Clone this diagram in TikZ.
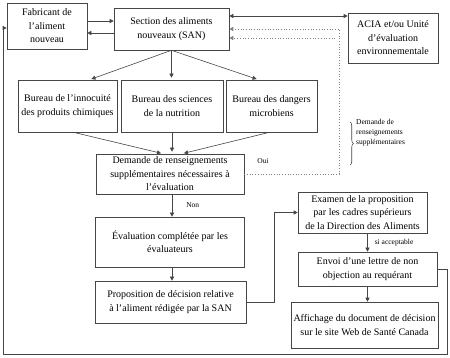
\documentclass[tikz,border=0pt]{standalone}
\usepackage{fontspec}
\setmainfont{Liberation Serif}
\usepackage{xcolor}
\usetikzlibrary{positioning,arrows.meta,calc,decorations.pathreplacing}
\definecolor{boxline}{RGB}{70,70,70}

\begin{document}
\begin{tikzpicture}[
  x=1pt, y=-1pt,
  >={Triangle[length=4pt,width=4pt]},
  unitbox/.style={draw=boxline, line width=0.6pt, fill=white, align=center, inner xsep=2pt, inner ysep=0pt, font=\fontsize{10}{13.5}\selectfont},
  flow/.style={->, line width=0.6pt, draw=boxline},
  infoflow/.style={->, line width=0.7pt, dotted, draw=gray},
  smalltext/.style={font=\fontsize{7.5}{10}\selectfont, inner sep=0pt}
]
\fill[white] (0,0) rectangle (450,358);
\useasboundingbox (0,0) rectangle (450,358);

\node[unitbox, minimum width=80pt, minimum height=46pt] (fab) at (47,26) {Fabricant de\\l’aliment\\nouveau};
\node[unitbox, minimum width=115pt, minimum height=42pt] (san) at (171.5,29) {Section des aliments\\nouveaux (SAN)};
\node[unitbox, minimum width=90pt, minimum height=50pt] (acia) at (393,38) {ACIA et/ou Unité\\d’évaluation\\environnementale};
\node[unitbox, minimum width=99pt, minimum height=52pt] (chim) at (67.5,106) {Bureau de l’innocuité\\des produits chimiques};
\node[unitbox, minimum width=102pt, minimum height=52pt] (nutr) at (172,106) {Bureau des sciences\\de la nutrition};
\node[unitbox, minimum width=91pt, minimum height=52pt] (micro) at (271.5,106) {Bureau des dangers\\microbiens};
\node[unitbox, minimum width=148pt, minimum height=40pt] (demande) at (170,174) {Demande de renseignements\\supplémentaires nécessaires à\\l’évaluation};
\node[unitbox, minimum width=149pt, minimum height=50pt] (eval) at (170,242) {Évaluation complétée par les\\évaluateurs};
\node[unitbox, minimum width=151pt, minimum height=42pt] (prop) at (170.5,302) {Proposition de décision relative\\à l’aliment rédigée par la SAN};
\node[unitbox, minimum width=129pt, minimum height=41pt] (exam) at (362.5,212.5) {Examen de la proposition\\par les cadres supérieurs\\de la Direction des Aliments};
\node[unitbox, minimum width=139pt, minimum height=34pt] (envoi) at (367.5,269) {Envoi d’une lettre de non\\objection au requérant};
\node[unitbox, minimum width=147pt, minimum height=46pt] (affich) at (364.5,325) {Affichage du document de décision\\sur le site Web de Santé Canada};

\node[smalltext] (oui) at (263,161) {Oui};
\node[smalltext, anchor=west, align=left] (bracenote) at (356,133) {Demande de\\renseignements\\supplémentaires};
\draw[draw=boxline, line width=0.6pt, decorate, decoration={brace, amplitude=3.5pt}] (350,122) -- (350,165);

\coordinate (dtop) at (339,29);
\coordinate (dend) at (335,38);
\coordinate (retr) at (447,354);
\coordinate (retl) at (3,354);

% manufacturer and SAN
\draw[flow] ([yshift=5pt]fab.east) -- ([yshift=5pt]fab.east -| san.west);
\draw[flow] ([yshift=-4pt]san.west) -- ([yshift=-4pt]san.west -| fab.east);
\draw[flow, <->] ([yshift=13pt]san.east) -- ([yshift=13pt]san.east -| acia.west);
\draw[infoflow] (demande.east) -| (dtop) -- (san.east);
\draw[infoflow] (dend) -- (dend -| san.east);

% bureaux
\draw[flow, shorten >=2pt] (san.south) -- ([xshift=22pt]chim.north);
\draw[flow, shorten >=2pt] (san.south) -- (san.south |- nutr.north);
\draw[flow, shorten >=2pt] (san.south) -- ([xshift=-13pt]micro.north);
\draw[flow, shorten >=2pt] ([xshift=6pt]chim.south) -- ([xshift=-7pt]demande.north);
\draw[flow, shorten >=2pt] (nutr.south) -- (nutr.south |- demande.north);
\draw[flow, shorten >=2pt] ([xshift=-2pt]micro.south) -- ([xshift=12pt]demande.north);

% evaluation chain
\draw[flow] (nutr.south |- demande.south) -- (nutr.south |- eval.north) node[smalltext, midway, right=14pt] {Non};
\draw[flow] (nutr.south |- eval.south) -- (nutr.south |- prop.north);
\draw[flow] (prop.east) -- ++(28,0) |- (exam.west);
\draw[flow] (envoi.north |- exam.south) -- (envoi.north) node[smalltext, midway, right=7pt] {si acceptable};
\draw[flow] (envoi.south) -- (envoi.south |- affich.north);
\draw[flow] (envoi.east) -| (retr) -- (retl) |- ([yshift=-2pt]fab.west);
\end{tikzpicture}
\end{document}
